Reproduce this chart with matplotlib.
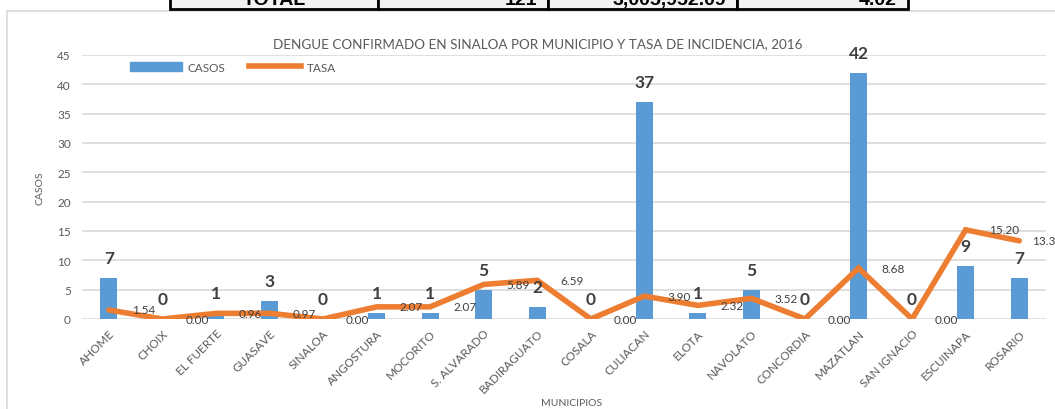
import matplotlib
matplotlib.use("Agg")
import matplotlib.pyplot as plt
from matplotlib.patches import Rectangle
from matplotlib.lines import Line2D
import numpy as np

municipios = ["AHOME", "CHOIX", "EL FUERTE", "GUASAVE", "SINALOA", "ANGOSTURA",
              "MOCORITO", "S. ALVARADO", "BADIRAGUATO", "COSALA", "CULIACAN", "ELOTA",
              "NAVOLATO", "CONCORDIA", "MAZATLAN", "SAN IGNACIO", "ESCUINAPA", "ROSARIO"]
casos = [7, 0, 1, 3, 0, 1, 1, 5, 2, 0, 37, 1, 5, 0, 42, 0, 9, 7]
tasa = [1.54, 0.00, 0.96, 0.97, 0.00, 2.07, 2.07, 5.89, 6.59, 0.00, 3.90, 2.32,
        3.52, 0.00, 8.68, 0.00, 15.20, 13.33]
yticks = [0, 5, 10, 15, 20, 25, 30, 35, 40, 45]
table_texts = ["TOTAL", "121", "3,005,952.09", "4.02"]

title = "DENGUE CONFIRMADO EN SINALOA POR MUNICIPIO Y TASA DE INCIDENCIA, 2016"

BLUE = "#5B9BD5"
ORANGE = "#ED7D31"
GRID = "#D9D9D9"
TXT = "#595959"
DARK = "#404040"
FONT = "Lato"

W, H = 1055, 410
fig = plt.figure(figsize=(W / 100, H / 100), dpi=100)

def fx(px):
    return px / W

def fy(py):
    return 1 - py / H

# chart area border
fig.patches.append(Rectangle((fx(7), fy(500)), fx(1200), fy(12) - fy(500),
                             transform=fig.transFigure, fill=False,
                             edgecolor=GRID, lw=1.2))

# table row at top (clipped)
cols = [170, 378, 548, 737, 908]
for i in range(4):
    fig.patches.append(Rectangle((fx(cols[i]), fy(10)), fx(cols[i + 1] - cols[i]), fy(-20) - fy(10),
                                 transform=fig.transFigure, facecolor="#F2F2F2",
                                 edgecolor="black", lw=2.0))
fig.text(fx((cols[0] + cols[1]) / 2), fy(5), table_texts[0], ha="center", va="baseline",
         fontsize=14, fontweight="bold", family="Liberation Sans")
for i in range(1, 4):
    fig.text(fx(cols[i + 1] - 11), fy(5), table_texts[i], ha="right", va="baseline",
             fontsize=14, fontweight="bold", family="Liberation Sans")

ax = fig.add_axes([fx(82), fy(320), fx(1046 - 82), fy(56) - fy(320)])
x = np.arange(len(municipios))
ax.bar(x, casos, width=0.32, color=BLUE, zorder=2)
ax.plot(x, tasa, color=ORANGE, lw=4, zorder=3, solid_capstyle="round", solid_joinstyle="miter")

ax.set_xlim(-0.5, len(municipios) - 0.5)
ax.set_ylim(0, 45)
ax.set_yticks(yticks)
ax.grid(axis="y", color=GRID, lw=1.2, zorder=0)
ax.set_axisbelow(True)
for s in ax.spines.values():
    s.set_visible(False)
ax.tick_params(axis="both", length=0, colors=TXT, labelsize=8.5, pad=8)
ax.set_xticks(x)
ax.set_xticklabels(municipios, rotation=45, ha="right", rotation_mode="anchor",
                   family=FONT, fontsize=8.5, color=TXT)
for lab in ax.get_yticklabels():
    lab.set_family(FONT)
ax.tick_params(axis="x", pad=6)

for xi, c in zip(x, casos):
    ax.annotate(str(c), (xi, c), xytext=(0, 12), textcoords="offset pixels",
                ha="center", va="bottom", fontsize=12.5, fontweight="bold",
                color=DARK, family=FONT, zorder=5)
for xi, t in zip(x, tasa):
    dx = 13 if xi == len(municipios) - 1 else 23
    ax.annotate(f"{t:.2f}", (xi, t), xytext=(dx, 0), textcoords="offset pixels",
                ha="left", va="center", fontsize=8.5, color=DARK, family=FONT,
                annotation_clip=False, zorder=5)

fig.text(fx(538), fy(44), title, ha="center", va="center", fontsize=9.7,
         color=TXT, family=FONT)
fig.text(fx(40), fy(188), "CASOS", ha="center", va="center", rotation=90,
         fontsize=7.5, color=TXT, family=FONT)
fig.text(fx(572), fy(404), "MUNICIPIOS", ha="center", va="center",
         fontsize=7.5, color=TXT, family=FONT)

handles = [Rectangle((0, 0), 1, 1, color=BLUE), Line2D([], [], color=ORANGE, lw=4)]
fig.legend(handles, ["CASOS", "TASA"], loc="center left",
           bbox_to_anchor=(fx(130), fy(68)), ncol=2, frameon=False,
           borderpad=0, borderaxespad=0, handlelength=4.4, handletextpad=0.5,
           columnspacing=2.0, prop={"family": FONT, "size": 8.5},
           labelcolor=TXT)

fig.savefig("out.png", dpi=100)
